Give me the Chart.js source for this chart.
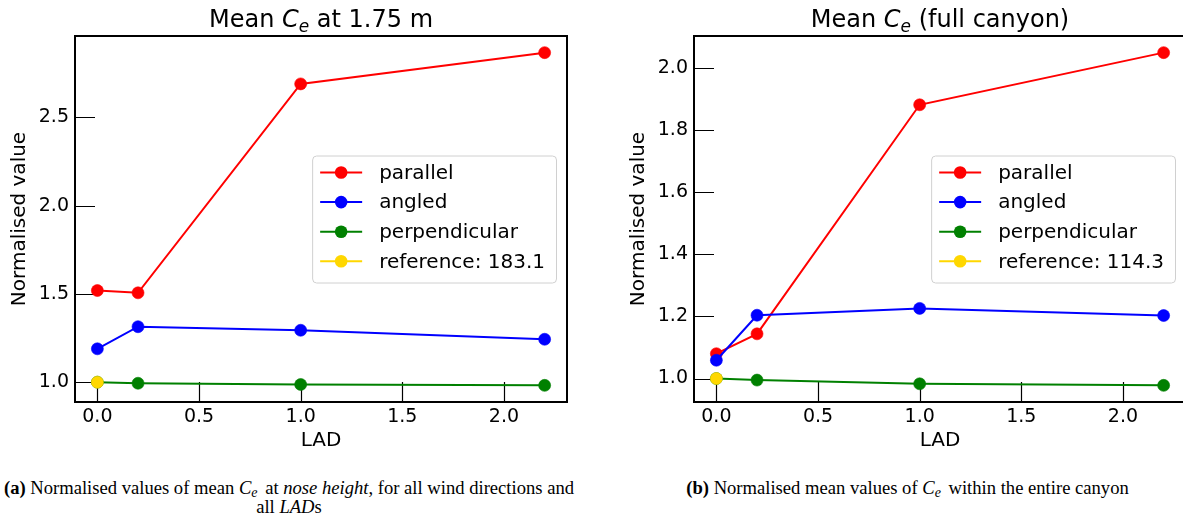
<!DOCTYPE html>
<html>
<head>
<meta charset="utf-8">
<script src="https://cdn.jsdelivr.net/npm/chart.js@4/dist/chart.umd.min.js"></script>
<style>
  html, body { margin: 0; padding: 0; background: #fff; width: 1183px; height: 517px; overflow: hidden; position: relative; }
  .panel { position: absolute; top: 0; height: 460px; }
  #panelA { left: 0; width: 590px; }
  #panelB { left: 590px; width: 620px; }
  .ptitle { position: absolute; top: 7px; font-family: 'DejaVu Sans', sans-serif; font-size: 24px; line-height: 24px; white-space: nowrap; transform: translateX(-50%); color: #000; }
  .ptitle i { font-style: italic; }
  .ptitle sub { font-size: 17px; vertical-align: -5px; line-height: 0; font-style: italic; }
  .cap { position: absolute; font-family: 'Liberation Serif', 'Times New Roman', serif; font-size: 18.6px; line-height: 19px; text-align: center; color: #000; white-space: nowrap; }
  .cap sub { font-size: 14px; vertical-align: -3px; line-height: 0; font-style: italic; margin-right: 3px; }
</style>
</head>
<body>
<div class="panel" id="panelA"><canvas id="chartA" width="590" height="460"></canvas></div>
<div class="panel" id="panelB"><canvas id="chartB" width="620" height="460"></canvas></div>
<div class="ptitle" style="left:321px">Mean <i>C<sub>e</sub></i> at 1.75 m</div>
<div class="ptitle" style="left:940px">Mean <i>C<sub>e</sub></i> (full canyon)</div>
<div class="cap" style="left:0; top:478px; width:578px;"><b>(a)</b> Normalised values of mean <i>C<sub>e</sub></i> at <i>nose height</i>, for all wind directions and<br>all <i>LAD</i>s</div>
<div class="cap" style="left:680px; top:478px; width:455px;"><b>(b)</b> Normalised mean values of <i>C<sub>e</sub></i> within the entire canyon</div>
<script>
// Leaf area density values on the x axis
const lad = [0, 0.2, 1.0, 2.2];

// Panel (a): mean Ce at 1.75 m, normalised by the reference case
const parallelA = [1.519, 1.506, 2.689, 2.866];
const angledA = [1.189, 1.314, 1.294, 1.243];
const perpendicularA = [1.0, 0.994, 0.987, 0.982];
const referenceA = [1.0];
const referenceLabelA = 'reference: 183.1';

// Panel (b): mean Ce over the full canyon, normalised by the reference case
const parallelB = [1.080, 1.144, 1.882, 2.050];
const angledB = [1.059, 1.204, 1.226, 1.203];
const perpendicularB = [1.0, 0.995, 0.983, 0.978];
const referenceB = [1.0];
const referenceLabelB = 'reference: 114.3';

const seriesNames = ['parallel', 'angled', 'perpendicular'];
const seriesColors = ['#ff0000', '#0000ff', '#008000', '#ffd700'];
const xStep = 0.5;
const yStepA = 0.5;
const yStepB = 0.2;

const FONT = "'DejaVu Sans', sans-serif";

function pts(xs, ys) {
  return ys.map((y, i) => ({ x: xs[i], y }));
}

// 5% data margins on each side, like the plotting defaults
function padded(values) {
  const lo = Math.min(...values), hi = Math.max(...values);
  const m = (hi - lo) * 0.05;
  return [lo - m, hi + m];
}

// Box around the plot area plus inward-pointing tick marks
const frameTicks = {
  id: 'frameTicks',
  beforeDatasetsDraw(chart) {
    const { ctx, chartArea: a, scales } = chart;
    ctx.save();
    ctx.strokeStyle = '#000';
    ctx.lineWidth = 1.2;
    ctx.beginPath();
    scales.x.ticks.forEach(t => {
      const px = Math.round(scales.x.getPixelForValue(t.value)) + 0.5;
      ctx.moveTo(px, a.bottom);
      ctx.lineTo(px, a.bottom - 20);
    });
    scales.y.ticks.forEach(t => {
      const py = Math.round(scales.y.getPixelForValue(t.value)) + 0.5;
      ctx.moveTo(a.left, py);
      ctx.lineTo(a.left + 20, py);
    });
    ctx.stroke();
    ctx.restore();
  },
  afterDraw(chart) {
    const { ctx, chartArea: a } = chart;
    ctx.save();
    ctx.strokeStyle = '#000';
    ctx.lineWidth = 2;
    ctx.strokeRect(a.left, a.top, a.right - a.left, a.bottom - a.top);
    ctx.restore();
  }
};

// Legend box placed inside the plot area, centred on the right edge
const insetLegend = {
  id: 'insetLegend',
  afterDraw(chart) {
    const { ctx, chartArea: a } = chart;
    const ds = chart.data.datasets;
    ctx.save();
    ctx.font = '20px ' + FONT;
    const textW = Math.max(...ds.map(d => ctx.measureText(d.label).width));
    const w = 67 + textW + 11;
    const h = 127;
    const x0 = a.right - 11 - w;
    const y0 = (a.top + a.bottom) / 2 - h / 2;
    ctx.fillStyle = 'rgba(255,255,255,0.8)';
    ctx.strokeStyle = '#d0d0d0';
    ctx.lineWidth = 1;
    ctx.beginPath();
    ctx.roundRect(x0 + 0.5, y0 + 0.5, w, h, 4);
    ctx.fill();
    ctx.stroke();
    ds.forEach((d, i) => {
      const cy = y0 + 17 + i * 29.6;
      ctx.strokeStyle = d.borderColor;
      ctx.lineWidth = 2;
      ctx.beginPath();
      ctx.moveTo(x0 + 8, cy);
      ctx.lineTo(x0 + 50, cy);
      ctx.stroke();
      ctx.fillStyle = d.borderColor;
      ctx.beginPath();
      ctx.arc(x0 + 29, cy, 6.3, 0, Math.PI * 2);
      ctx.fill();
      ctx.fillStyle = '#000';
      ctx.textBaseline = 'middle';
      ctx.textAlign = 'left';
      ctx.fillText(d.label, x0 + 67, cy + 1);
    });
    ctx.restore();
  }
};

function makeChart(id, series, refLabel, yStep, yAxisWidth, yTitlePad, padRight) {
  const all = series.flat();
  const [ymin, ymax] = padded(all);
  const [xmin, xmax] = padded(lad);
  const labels = [...seriesNames, refLabel];
  const datasets = series.map((ys, i) => ({
    label: labels[i],
    data: pts(lad, ys),
    borderColor: seriesColors[i],
    backgroundColor: seriesColors[i],
    pointBackgroundColor: seriesColors[i],
    pointBorderColor: seriesColors[i],
    borderWidth: 2,
    pointRadius: 6,
    pointBorderWidth: 0.6,
    tension: 0,
    order: series.length - i
  }));
  return new Chart(document.getElementById(id), {
    type: 'line',
    data: { datasets },
    plugins: [frameTicks, insetLegend],
    options: {
      responsive: false,
      animation: false,
      devicePixelRatio: 1,
      layout: { padding: { top: 36, right: padRight, bottom: 0, left: 0 } },
      plugins: { legend: { display: false }, tooltip: { enabled: false } },
      scales: {
        x: {
          type: 'linear',
          min: xmin, max: xmax,
          afterFit: s => { s.height = 58; },
          grid: { display: false, drawTicks: false },
          border: { display: false },
          ticks: {
            stepSize: xStep, includeBounds: false, autoSkip: false, maxRotation: 0,
            padding: 4, color: '#000', font: { family: FONT, size: 19 },
            callback: v => v.toFixed(1)
          },
          title: { display: true, text: 'LAD', color: '#000', font: { family: FONT, size: 20 }, padding: { top: 0, bottom: 7 } }
        },
        y: {
          type: 'linear',
          min: ymin, max: ymax,
          afterFit: s => { s.width = yAxisWidth; },
          grid: { display: false, drawTicks: false },
          border: { display: false },
          ticks: {
            stepSize: yStep, includeBounds: false, autoSkip: false,
            padding: 6, color: '#000', font: { family: FONT, size: 19 },
            callback: v => v.toFixed(1)
          },
          title: { display: true, text: 'Normalised value', color: '#000', font: { family: FONT, size: 20 }, padding: { top: yTitlePad, bottom: 0 } }
        }
      }
    }
  });
}

makeChart('chartA', [parallelA, angledA, perpendicularA, referenceA], referenceLabelA, yStepA, 75, 8, 23);
makeChart('chartB', [parallelB, angledB, perpendicularB, referenceB], referenceLabelB, yStepB, 104, 37, 24);
</script>
</body>
</html>
